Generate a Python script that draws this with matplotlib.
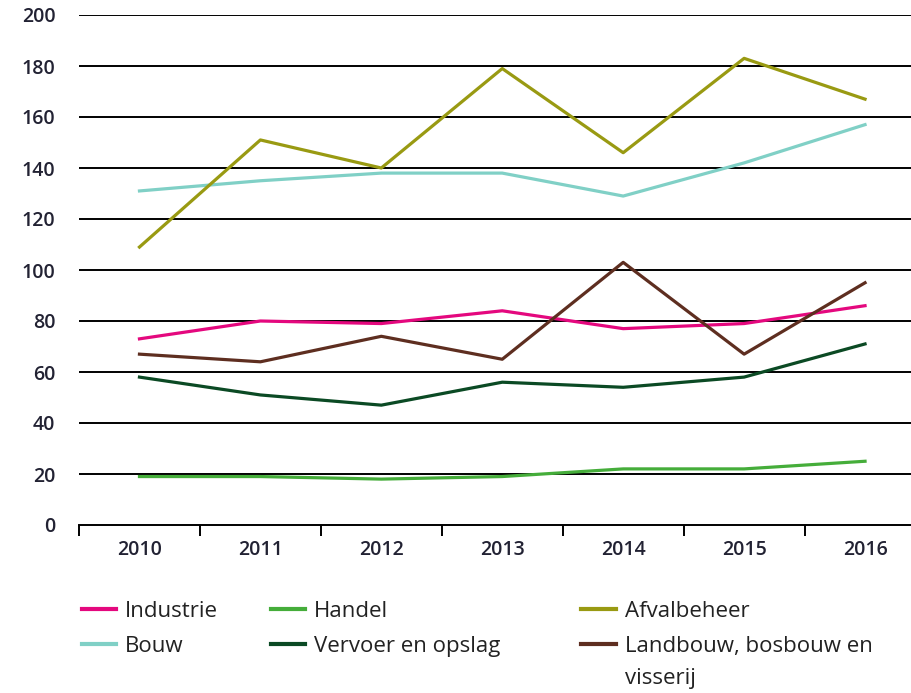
import matplotlib
matplotlib.use("Agg")
import matplotlib.pyplot as plt
from matplotlib.ticker import FixedLocator
from matplotlib.transforms import IdentityTransform

jaren = ["2010", "2011", "2012", "2013", "2014", "2015", "2016"]

industrie = [73, 80, 79, 84, 77, 79, 86]
handel = [19, 19, 18, 19, 22, 22, 25]
afvalbeheer = [109, 151, 140, 179, 146, 183, 167]
bouw = [131, 135, 138, 138, 129, 142, 157]
vervoer = [58, 51, 47, 56, 54, 58, 71]
landbouw = [67, 64, 74, 65, 103, 67, 95]

yticks = [0, 20, 40, 60, 80, 100, 120, 140, 160, 180, 200]

plt.rcParams['font.family'] = ['Open Sans', 'DejaVu Sans']

fig = plt.figure(figsize=(9.11, 6.93), dpi=100)
ax = fig.add_axes([79 / 911, 168 / 693, 1 - 79 / 911, 510 / 693])

x = list(range(len(jaren)))
series = [
    ("Industrie", industrie, "#e4087e"),
    ("Bouw", bouw, "#80d0c6"),
    ("Handel", handel, "#45ad3a"),
    ("Vervoer en opslag", vervoer, "#0b4a24"),
    ("Afvalbeheer", afvalbeheer, "#999a12"),
    ("Landbouw, bosbouw en", landbouw, "#5e2e20"),
]
lines = []
for name, vals, col in series:
    l, = ax.plot(x, vals, color=col, lw=2.3, label=name, zorder=3)
    lines.append(l)

ax.set_ylim(0, 200)
ax.set_xlim(-0.5, 6.38)
ax.set_yticks(yticks)
for v in yticks[1:]:
    ax.axhline(v, color="black", lw=1.4, zorder=1)

for s in ["top", "right", "left"]:
    ax.spines[s].set_visible(False)
ax.spines["bottom"].set_linewidth(1.4)

ax.set_xticks(x)
ax.set_xticklabels(jaren)
ax.xaxis.set_minor_locator(FixedLocator([i - 0.5 for i in range(len(jaren) + 1)]))
ax.tick_params(axis="x", which="major", length=0, pad=11, labelsize=14, colors="#222233")
ax.tick_params(axis="x", which="minor", length=8, width=1.4, direction="out")
ax.tick_params(axis="y", length=0, pad=17, labelsize=14, colors="#222233")
for lab in ax.get_yticklabels() + ax.get_xticklabels():
    lab.set_fontweight("semibold")

# legend in three columns
cols = [(lines[0:2], 0.090), (lines[2:4], 0.297), (lines[4:6], 0.638)]
legs = []
for hs, xpos in cols:
    leg = fig.legend(handles=hs, loc="upper left", bbox_to_anchor=(xpos, 0.133),
                     frameon=False, fontsize=16, handlelength=1.55,
                     handletextpad=0.4, labelspacing=0.62, borderpad=0,
                     borderaxespad=0)
    for lh in leg.get_lines():
        lh.set_linewidth(3)
    for t in leg.get_texts():
        t.set_color("#222222")
    legs.append(leg)

# second line of the last label, under the first line
fig.canvas.draw()
bb = legs[2].get_texts()[1].get_window_extent()
fig.text(bb.x0, bb.y0 - 32, "visserij", transform=IdentityTransform(),
         fontsize=16, color="#222222", va="bottom")

fig.savefig("out.png", dpi=100)
